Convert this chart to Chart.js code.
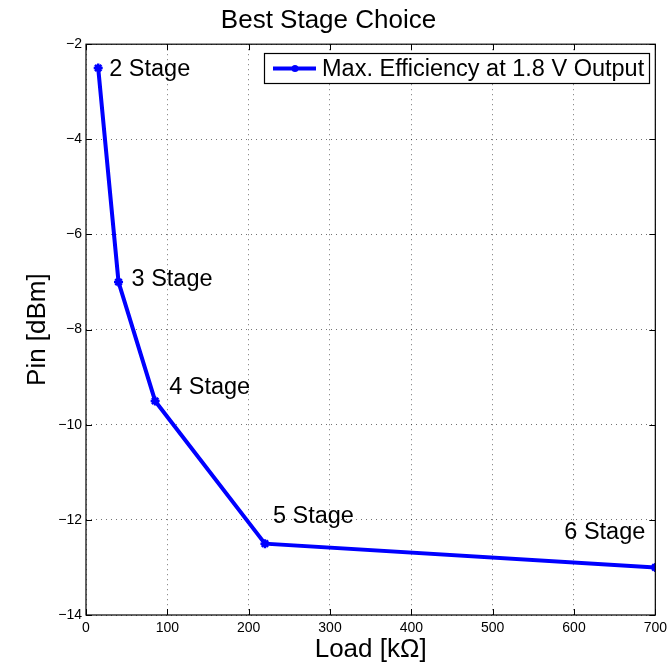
<!DOCTYPE html>
<html>
<head>
<meta charset="utf-8">
<script src="https://cdn.jsdelivr.net/npm/chart.js@4/dist/chart.umd.min.js"></script>
<style>
  html, body { margin: 0; padding: 0; background: #fff; }
  #wrap { width: 672px; height: 665px; }
</style>
</head>
<body>
<div id="wrap"><canvas id="myChart" width="672" height="665"></canvas></div>
<script>
// data
const loadKOhm = [15, 40, 85, 220, 700];
const pinDbm = [-2.5, -7, -9.5, -12.5, -13];
const stageLabels = ['2 Stage', '3 Stage', '4 Stage', '5 Stage', '6 Stage'];
const seriesName = 'Max. Efficiency at 1.8 V Output';

const FONT = '"Liberation Sans", Arial, Helvetica, sans-serif';
const BLUE = '#0000ff';

// pixel offsets of the stage labels from their points
const labelOffsets = [[11, 2], [13, -3], [14, -13], [8, -27], [-91, -35]];

function minus(v) {
    return String(v).replace('-', '\u2212');
}

const whiteBg = {
    id: 'whiteBg',
    beforeDraw(chart) {
        const c = chart.ctx;
        c.save();
        c.fillStyle = '#fff';
        c.fillRect(0, 0, chart.width, chart.height);
        c.restore();
    }
};

// matlab style box, inward ticks, stage labels and legend
const matlabFrame = {
    id: 'matlabFrame',
    afterDraw(chart) {
        const c = chart.ctx;
        const a = chart.chartArea;
        const xs = chart.scales.x;
        const ys = chart.scales.y;
        c.save();
        c.strokeStyle = '#000';
        c.lineWidth = 1.2;
        c.strokeRect(a.left, a.top, a.right - a.left, a.bottom - a.top);

        c.lineWidth = 1;
        c.beginPath();
        xs.ticks.forEach(t => {
            const px = Math.round(xs.getPixelForValue(t.value)) + 0.5;
            c.moveTo(px, a.bottom); c.lineTo(px, a.bottom - 6);
            c.moveTo(px, a.top); c.lineTo(px, a.top + 6);
        });
        ys.ticks.forEach(t => {
            const py = Math.round(ys.getPixelForValue(t.value)) + 0.5;
            c.moveTo(a.left, py); c.lineTo(a.left + 6, py);
            c.moveTo(a.right, py); c.lineTo(a.right - 6, py);
        });
        c.stroke();

        // stage labels
        c.fillStyle = '#000';
        c.font = '23.5px ' + FONT;
        c.textBaseline = 'middle';
        c.textAlign = 'left';
        const meta = chart.getDatasetMeta(0);
        meta.data.forEach((pt, i) => {
            const off = labelOffsets[i];
            c.fillText(stageLabels[i], pt.x + off[0], pt.y + off[1]);
        });

        // legend box
        const lx = 264, ly = 53, lw = 385, lh = 30;
        c.fillStyle = '#fff';
        c.fillRect(lx, ly, lw, lh);
        c.strokeStyle = '#000';
        c.lineWidth = 1.2;
        c.strokeRect(lx + 0.5, ly + 0.5, lw, lh);
        const my = ly + lh / 2 + 0.5;
        c.strokeStyle = BLUE;
        c.lineWidth = 4;
        c.beginPath();
        c.moveTo(lx + 9, my); c.lineTo(lx + 52, my);
        c.stroke();
        c.fillStyle = BLUE;
        c.beginPath();
        c.arc(lx + 31, my, 3.5, 0, Math.PI * 2);
        c.fill();
        c.fillStyle = '#000';
        c.font = '23.5px ' + FONT;
        c.textBaseline = 'middle';
        c.fillText(seriesName, lx + 58, my + 1);
        c.restore();
    }
};

const ctx = document.getElementById('myChart').getContext('2d');
const myChart = new Chart(ctx, {
    type: 'scatter',
    data: {
        datasets: [{
            label: seriesName,
            data: loadKOhm.map((x, i) => ({ x: x, y: pinDbm[i] })),
            showLine: true,
            borderColor: BLUE,
            backgroundColor: BLUE,
            borderWidth: 4,
            pointStyle: 'star',
            pointRadius: 4.5,
            pointBorderWidth: 2.5,
            pointBorderColor: BLUE,
            tension: 0
        }]
    },
    options: {
        responsive: false,
        animation: false,
        layout: { padding: { left: 0, right: 15, top: 0, bottom: 0 } },
        plugins: {
            legend: { display: false },
            tooltip: { enabled: false },
            title: {
                display: true,
                text: 'Best Stage Choice',
                color: '#000',
                font: { family: FONT, size: 26, weight: 'normal' },
                padding: { top: 5, bottom: 8 }
            }
        },
        scales: {
            x: {
                type: 'linear',
                min: 0,
                max: 700,
                afterFit(scale) { scale.height = 50; },
                ticks: {
                    stepSize: 100,
                    color: '#000',
                    padding: 5,
                    maxRotation: 0,
                    font: { family: FONT, size: 14 }
                },
                grid: {
                    color: 'rgba(0,0,0,0.55)',
                    lineWidth: 1,
                    drawTicks: false
                },
                border: { display: false, dash: [1, 4] },
                title: {
                    display: true,
                    text: 'Load [k\u03A9]',
                    color: '#000',
                    font: { family: FONT, size: 26 },
                    padding: { top: 0, bottom: 0 }
                }
            },
            y: {
                type: 'linear',
                min: -14,
                max: -2,
                afterFit(scale) { scale.width = 86; },
                ticks: {
                    stepSize: 2,
                    color: '#000',
                    padding: 4,
                    font: { family: FONT, size: 14 },
                    callback: v => minus(v)
                },
                grid: {
                    color: 'rgba(0,0,0,0.55)',
                    lineWidth: 1,
                    drawTicks: false
                },
                border: { display: false, dash: [1, 4] },
                title: {
                    display: true,
                    text: 'Pin [dBm]',
                    color: '#000',
                    font: { family: FONT, size: 26 },
                    padding: { top: 22, bottom: 0 }
                }
            }
        }
    },
    plugins: [whiteBg, matlabFrame]
});
</script>
</body>
</html>
